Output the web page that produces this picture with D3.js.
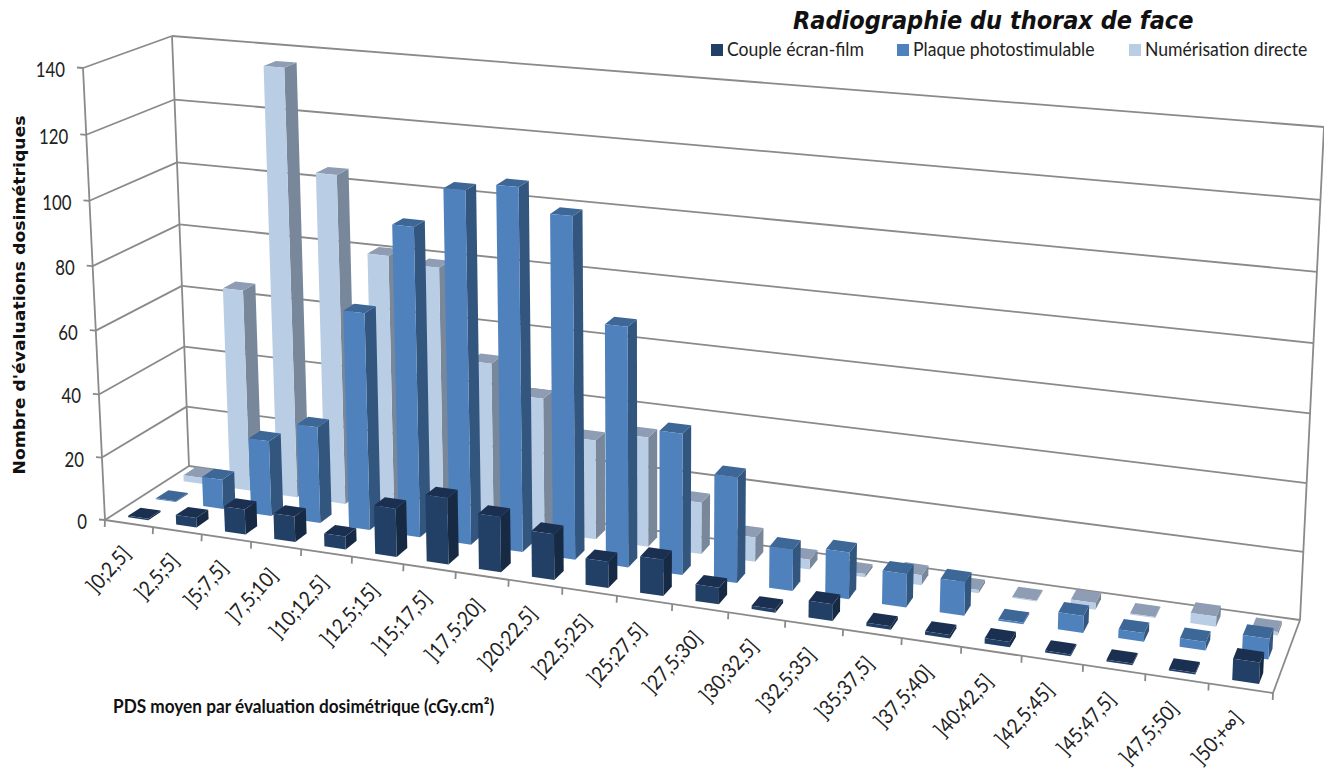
<!DOCTYPE html>
<html><head><meta charset="utf-8">
<script src="https://cdn.jsdelivr.net/npm/d3@7/dist/d3.min.js"></script>
<style>html,body{margin:0;padding:0;background:#fff;overflow:hidden}</style>
</head><body><svg id="c" width="1324" height="775"></svg>
<script>
const categories = ["]0;2,5]","]2,5;5]","]5;7,5]","]7,5;10]","]10;12,5]","]12,5;15]","]15;17,5]","]17,5;20]","]20;22,5]","]22,5;25]","]25;27,5]","]27,5;30]","]30;32,5]","]32,5;35]","]35;37,5]","]37,5;40]","]40;42,5]","]42,5;45]","]45;47,5]","]47,5;50]","]50;+∞]"];
const seriesNames = ["Couple écran-film","Plaque photostimulable","Numérisation directe"];
const couple = [0.5,3,8,8,4,15,20.5,17,14,8,11,5,1,5,1,1,1.5,0.5,0.5,0.5,6];
const plaque = [0.3,9.5,24,30.5,68,96,108.5,111,104,73,43,32,12.5,14,10,10,0.5,5,2.5,2.5,6];
const numerisation = [2,65,136,104.5,81,79,51,42,31,34,16,7.5,3,1,3,1,0.3,2,0.3,3,1];
const yTicks = [0,20,40,60,80,100,120,140];
const titleText = "Radiographie du thorax de face";
const yTitle = "Nombre d'évaluations dosimétriques";
const xTitle = "PDS moyen par évaluation dosimétrique (cGy.cm²)";

// projection of the chart's box: floor and top corners as seen on the page
const box = {
  fbl:[105,520], fbr:[1273,693], bbl:[189,466], bbr:[1300,620],
  ftl:[83,68],  ftr:[1297,175], btl:[172,36],  btr:[1324,127]
};
const warp = k => t => t/(t + k*(1-t));
const wu = warp(1.165), wv = warp(1.04), ww = warp(1.0);
const lerp = (a,b,t)=>[a[0]+(b[0]-a[0])*t, a[1]+(b[1]-a[1])*t];
function proj(u,w,v){
  const tu=wu(u), tw=ww(w), tv=wv(v);
  const fb=lerp(box.fbl,box.fbr,tu), bb=lerp(box.bbl,box.bbr,tu);
  const ft=lerp(box.ftl,box.ftr,tu), bt=lerp(box.btl,box.btr,tu);
  return lerp(lerp(fb,bb,tw), lerp(ft,bt,tw), tv);
}
const xBand = d3.scaleBand().domain(categories).range([0,1]).paddingInner(0.58).paddingOuter(0.29).align(0.56);
const xStep = d3.scaleLinear().domain([0,categories.length]).range([0,1]);
const zBand = d3.scaleBand().domain(seriesNames).range([0,1]).paddingInner(0.55).paddingOuter(0.275);
const yScale = d3.scaleLinear().domain([0,140]).range([0,1]);

const svg = d3.select("#c");
const gridCol = "#8a8a8a";
const pts = a => a.map(p=>p.map(n=>n.toFixed(1)).join(",")).join(" ");
const gGrid = svg.append("g").attr("fill","none").attr("stroke",gridCol).attr("stroke-width",1.8);
function seg(g,a,b){g.append("line").attr("x1",a[0]).attr("y1",a[1]).attr("x2",b[0]).attr("y2",b[1]);}

yTicks.forEach(t=>{
  const v=yScale(t);
  seg(gGrid,proj(0,0,v),proj(0,1,v));
  seg(gGrid,proj(0,1,v),proj(1,1,v));
  const p=proj(0,0,v);
  seg(gGrid,[p[0]-6,p[1]-0.5],p);
});
seg(gGrid,proj(0,0,0),proj(0,0,1));
seg(gGrid,proj(0,1,0),proj(0,1,1));
seg(gGrid,proj(1,1,0),proj(1,1,1));
seg(gGrid,proj(1,0,0),proj(1,1,0));
seg(gGrid,proj(0,0,0),proj(1,0,0));
d3.range(categories.length+1).forEach(i=>{
  const p=proj(xStep(i),0,0);
  seg(gGrid,p,[p[0]-0.3,p[1]+7]);
});

const palette = {
  [seriesNames[0]]:{front:"#223f66",side:"#172a43",top:"#1b3050"},
  [seriesNames[1]]:{front:"#4f81bd",side:"#33567f",top:"#3d6797"},
  [seriesNames[2]]:{front:"#b9cde5",side:"#78879a",top:"#8e9db3"}
};
const seriesData = {[seriesNames[0]]:couple,[seriesNames[1]]:plaque,[seriesNames[2]]:numerisation};
const gBars = svg.append("g");
seriesNames.slice().reverse().forEach(name=>{
  const w0=zBand(name), w1=w0+zBand.bandwidth(), col=palette[name];
  seriesData[name].forEach((val,i)=>{
    const u0=xBand(categories[i]), u1=u0+xBand.bandwidth(), v=yScale(val);
    const g=gBars.append("g");
    g.append("polygon").attr("points",pts([proj(u1,w0,0),proj(u1,w1,0),proj(u1,w1,v),proj(u1,w0,v)])).attr("fill",col.side);
    g.append("polygon").attr("points",pts([proj(u0,w0,v),proj(u1,w0,v),proj(u1,w1,v),proj(u0,w1,v)])).attr("fill",col.top);
    g.append("polygon").attr("points",pts([proj(u0,w0,0),proj(u1,w0,0),proj(u1,w0,v),proj(u0,w0,v)])).attr("fill",col.front);
  });
});

const narrow = "Lato,sans-serif";
const gText = svg.append("g").attr("fill","#222");
yTicks.forEach(t=>{
  const p=proj(0,0,yScale(t));
  gText.append("text").attr("text-anchor","end")
    .attr("transform",`translate(${p[0]-18},${p[1]+9}) scale(0.8,1)`)
    .attr("font-family",narrow).attr("font-size",21).text(t);
});
categories.forEach((c,i)=>{
  const p=proj(xStep(i+0.5),0,0);
  gText.append("text").attr("text-anchor","end")
    .attr("transform",`translate(${p[0]+3},${p[1]+31}) rotate(-48) scale(0.9,1)`)
    .attr("font-family",narrow).attr("font-size",21).text(c);
});
gText.append("text").attr("transform","translate(25,295) rotate(-90) scale(1.08,1)").attr("text-anchor","middle")
  .attr("font-family","'DejaVu Sans',sans-serif").attr("font-weight","bold").attr("font-size",16).attr("fill","#111").text(yTitle);
gText.append("text").attr("transform","translate(113,713) scale(0.93,1)").attr("font-family",narrow).attr("font-weight","bold")
  .attr("font-size",18.5).attr("fill","#111").text(xTitle);
gText.append("text").attr("transform","translate(793,29) scale(0.9,1)").attr("font-family","'DejaVu Sans',sans-serif")
  .attr("font-weight","bold").attr("font-style","italic").attr("font-size",25).attr("fill","#111").text(titleText);

const legendX = d3.scaleOrdinal().domain(seriesNames).range([711,897,1129]);
seriesNames.forEach(name=>{
  const x=legendX(name);
  gText.append("rect").attr("x",x).attr("y",44).attr("width",12).attr("height",12).attr("fill",palette[name].front);
  gText.append("text").attr("transform",`translate(${x+16},56) scale(0.88,1)`).attr("font-family",narrow).attr("font-size",20).text(name);
});
</script></body></html>
